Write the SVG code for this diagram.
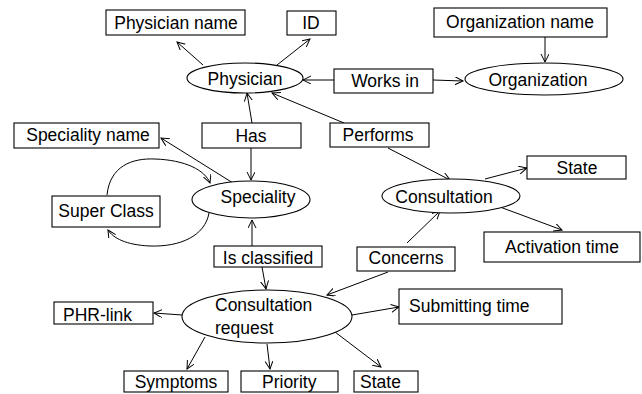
<svg xmlns="http://www.w3.org/2000/svg" width="642" height="394" viewBox="0 0 642 394">
<defs>
<marker id="arr" markerWidth="10" markerHeight="10" refX="8" refY="4" orient="auto" markerUnits="userSpaceOnUse">
<path d="M0,0 L8,4 L0,8" fill="none" stroke="#000" stroke-width="1"/>
</marker>
<style>
.n rect, .n ellipse { fill: #fff; stroke: #000; stroke-width: 1.1; }
text { font-family: "Liberation Sans", Arial, sans-serif; font-size: 17.5px; fill: #000; }
.m { text-anchor: middle; }
.c line, .c path { stroke: #000; stroke-width: 1; fill: none; marker-end: url(#arr); }
</style>
</defs>
<rect x="0" y="0" width="642" height="394" style="fill:#fff;stroke:none"/>
<g class="c" id="connectors">
<line x1="203" y1="65" x2="177" y2="42"/>
<line x1="277" y1="65" x2="310" y2="39"/>
<line x1="334" y1="80" x2="303" y2="80"/>
<line x1="433" y1="80" x2="463" y2="81"/>
<line x1="545" y1="37" x2="545" y2="62"/>
<line x1="252" y1="123" x2="247" y2="93"/>
<line x1="344" y1="123" x2="272" y2="93"/>
<line x1="251" y1="148" x2="251" y2="180"/>
<line x1="233" y1="183" x2="161" y2="138"/>
<path d="M107,195 C110,166 132,158 155,159 C185,160 205,170 210,183"/>
<path d="M209,213 C205,236 180,247 150,246 C126,245 113,238 108,230"/>
<line x1="388" y1="148" x2="450" y2="180"/>
<line x1="485" y1="179" x2="527" y2="168"/>
<line x1="500" y1="207" x2="562" y2="230"/>
<line x1="407" y1="243" x2="440" y2="211"/>
<line x1="252" y1="246" x2="252" y2="220"/>
<line x1="262" y1="267" x2="266" y2="289"/>
<line x1="388" y1="272" x2="327" y2="295"/>
<line x1="182" y1="315" x2="154" y2="313"/>
<line x1="352" y1="315" x2="399" y2="307"/>
<line x1="205" y1="337" x2="187" y2="369"/>
<line x1="267" y1="344" x2="270" y2="369"/>
<line x1="335" y1="332" x2="381" y2="367"/>
</g>
<g class="n" id="physician-name"><rect x="106" y="10" width="139" height="25"/><text class="m" x="176" y="29">Physician name</text></g>
<g class="n" id="id"><rect x="287" y="11" width="49" height="24"/><text class="m" x="311" y="29">ID</text></g>
<g class="n" id="organization-name"><rect x="434" y="8" width="173" height="29"/><text class="m" x="520" y="28">Organization name</text></g>
<g class="n" id="physician"><ellipse cx="245" cy="78" rx="58" ry="15"/><text class="m" x="245" y="85">Physician</text></g>
<g class="n" id="works-in"><rect x="334" y="69" width="99" height="24"/><text class="m" x="385" y="87">Works in</text></g>
<g class="n" id="organization"><ellipse cx="544" cy="79" rx="79" ry="16"/><text class="m" x="538" y="86">Organization</text></g>
<g class="n" id="speciality-name"><rect x="14" y="123" width="145" height="25"/><text class="m" x="88" y="141">Speciality name</text></g>
<g class="n" id="has"><rect x="202" y="123" width="99" height="25"/><text class="m" x="251" y="142">Has</text></g>
<g class="n" id="performs"><rect x="330" y="123" width="99" height="24"/><text class="m" x="378" y="141">Performs</text></g>
<g class="n" id="super-class"><rect x="52" y="196" width="108" height="31"/><text class="m" x="106" y="217">Super Class</text></g>
<g class="n" id="speciality"><ellipse cx="251" cy="199.5" rx="59" ry="18.5"/><text class="m" x="258" y="203">Speciality</text></g>
<g class="n" id="consultation"><ellipse cx="451" cy="196" rx="69" ry="17"/><text class="m" x="444" y="203">Consultation</text></g>
<g class="n" id="state-top"><rect x="527" y="156" width="99" height="23"/><text class="m" x="577" y="174">State</text></g>
<g class="n" id="activation-time"><rect x="484" y="232" width="156" height="30"/><text class="m" x="562" y="253">Activation time</text></g>
<g class="n" id="is-classified"><rect x="214" y="246" width="108" height="21"/><text class="m" x="268" y="264">Is classified</text></g>
<g class="n" id="concerns"><rect x="357" y="247" width="98" height="24"/><text class="m" x="406" y="264">Concerns</text></g>
<g class="n" id="consultation-request"><ellipse cx="267" cy="316.5" rx="85" ry="26.5"/><text x="215" y="311">Consultation</text><text x="215" y="334">request</text></g>
<g class="n" id="phr-link"><rect x="54" y="302" width="99" height="22"/><text x="63" y="321">PHR-link</text></g>
<g class="n" id="submitting-time"><rect x="399" y="289" width="163" height="35"/><text x="409" y="312">Submitting time</text></g>
<g class="n" id="symptoms"><rect x="124" y="371" width="104" height="21"/><text class="m" x="176" y="388">Symptoms</text></g>
<g class="n" id="priority"><rect x="241" y="371" width="97" height="21"/><text x="262" y="388">Priority</text></g>
<g class="n" id="state-bottom"><rect x="354" y="371" width="64" height="21"/><text x="360" y="388">State</text></g>
</svg>
